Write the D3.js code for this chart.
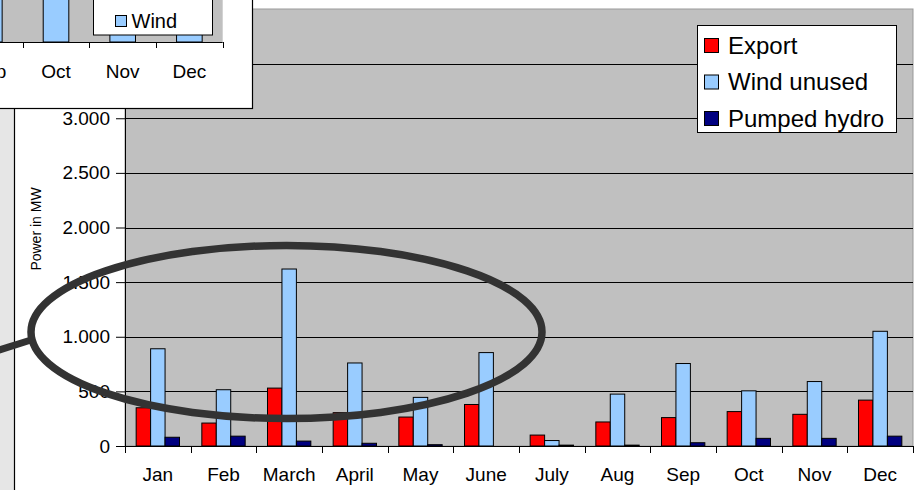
<!DOCTYPE html>
<html>
<head>
<meta charset="utf-8">
<script src="https://cdn.jsdelivr.net/npm/d3@7"></script>
<style>
  html, body { margin: 0; padding: 0; background: #fff; }
  svg { display: block; font-family: "Liberation Sans", Arial, sans-serif; }
</style>
</head>
<body>
<svg id="chart" width="920" height="490"></svg>
<script>
// Monthly surplus power, MW
const months = ["Jan", "Feb", "March", "April", "May", "June", "July", "Aug", "Sep", "Oct", "Nov", "Dec"];
const exportMW      = [350, 210, 530, 305, 265, 380, 100, 220, 260, 315, 290, 420];
const windUnusedMW  = [890, 515, 1620, 760, 445, 855, 50, 475, 755, 505, 590, 1050];
const pumpedHydroMW = [80, 90, 45, 25, 12, 0, 8, 8, 30, 70, 70, 90];
const seriesNames  = ["Export", "Wind unused", "Pumped hydro"];
const seriesColors = ["#FF0000", "#99CCFF", "#000080"];
const yGrid   = [500, 1000, 1500, 2000, 2500, 3000, 3500];
const yLabels = [0, 500, 1000, 1500, 2000, 2500, 3000];

// Small wind chart shown in the corner
const insetMonths = ["Sep", "Oct", "Nov", "Dec"];
const insetWind   = [5200, 4800, 5000, 5400];
const insetLegend = ["Wind"];

const svg = d3.select("#chart");
const W = 920, H = 490;
const plot = { left: 125, right: 913, top: 9, bottom: 446 };

const fmt = d3.formatLocale({ decimal: ",", thousands: ".", grouping: [3], currency: ["", ""] }).format(",");

svg.append("rect").attr("width", W).attr("height", H).attr("fill", "#fff");

// slide strip on the left
svg.append("rect").attr("x", 0).attr("y", 0).attr("width", 14).attr("height", H).attr("fill", "#E6E6E6");
svg.append("line").attr("x1", 14.5).attr("x2", 14.5).attr("y1", 0).attr("y2", H)
  .attr("stroke", "#000").attr("stroke-width", 1.2);

// scales
const x0 = d3.scaleBand().domain(months).range([plot.left, plot.right])
  .paddingInner(0.34).paddingOuter(0.17);
const x1 = d3.scaleBand().domain(seriesNames).range([0, x0.bandwidth()]).padding(0);
const y = d3.scaleLinear().domain([0, 4000]).range([plot.bottom, plot.top]);

// plot area
svg.append("rect")
  .attr("x", plot.left).attr("y", plot.top)
  .attr("width", plot.right - plot.left).attr("height", plot.bottom - plot.top)
  .attr("fill", "#C0C0C0").attr("stroke", "#999").attr("stroke-width", 1);

// gridlines
svg.append("g").selectAll("line")
  .data(yGrid)
  .join("line")
  .attr("x1", plot.left).attr("x2", plot.right)
  .attr("y1", d => Math.round(y(d)) + 0.5).attr("y2", d => Math.round(y(d)) + 0.5)
  .attr("stroke", "#000").attr("stroke-width", 1);

// bars
const seriesValues = [exportMW, windUnusedMW, pumpedHydroMW];
const rows = months.map((m, i) => ({
  month: m,
  values: seriesNames.map((s, k) => ({ series: s, color: seriesColors[k], value: seriesValues[k][i] }))
}));

svg.append("g").selectAll("g")
  .data(rows).join("g")
  .attr("transform", d => `translate(${x0(d.month)},0)`)
  .selectAll("rect")
  .data(d => d.values.filter(v => v.value > 0))
  .join("rect")
  .attr("x", d => x1(d.series))
  .attr("y", d => y(d.value))
  .attr("width", x1.bandwidth())
  .attr("height", d => y(0) - y(d.value))
  .attr("fill", d => d.color)
  .attr("stroke", "#000").attr("stroke-width", 1);

// y axis
const yAxis = d3.axisLeft(y).tickValues(yLabels).tickSize(9).tickPadding(6).tickFormat(d => fmt(d));
const gy = svg.append("g").attr("transform", `translate(${plot.left},0)`).call(yAxis);
gy.select(".domain").attr("stroke", "#000");
gy.selectAll(".tick line").attr("stroke", "#000");
gy.selectAll(".tick text").attr("font-size", 19).attr("fill", "#000")
  .attr("font-family", "Liberation Sans, Arial, sans-serif");

// x axis: ticks on category boundaries
svg.append("line").attr("x1", plot.left).attr("x2", plot.right)
  .attr("y1", plot.bottom + 0.5).attr("y2", plot.bottom + 0.5).attr("stroke", "#000");
const bounds = months.map(m => x0(m) - x0.step() * x0.paddingOuter()).concat([plot.right]);
svg.append("g").selectAll("line").data(bounds).join("line")
  .attr("x1", d => Math.round(d) + 0.5).attr("x2", d => Math.round(d) + 0.5)
  .attr("y1", plot.bottom).attr("y2", plot.bottom + 7).attr("stroke", "#000");
svg.append("g").selectAll("text").data(months).join("text")
  .attr("x", d => x0(d) + x0.bandwidth() / 2)
  .attr("y", 481)
  .attr("text-anchor", "middle")
  .attr("font-size", 19).attr("fill", "#000")
  .text(d => d);

// axis title
svg.append("text")
  .attr("transform", "translate(41,229) rotate(-90)")
  .attr("text-anchor", "middle")
  .attr("font-size", 14).attr("fill", "#000")
  .text("Power in MW");

// legend
const lg = svg.append("g").attr("transform", "translate(697,25)");
lg.append("rect").attr("x", 0.5).attr("y", 0.5).attr("width", 199).attr("height", 107)
  .attr("fill", "#fff").attr("stroke", "#000");
const li = lg.selectAll("g.item").data(seriesNames).join("g")
  .attr("class", "item")
  .attr("transform", (d, i) => `translate(0,${20 + i * 36.5})`);
li.append("rect").attr("x", 7.5).attr("y", -6.5).attr("width", 14).attr("height", 14)
  .attr("fill", (d, i) => seriesColors[i]).attr("stroke", "#000");
li.append("text").attr("x", 31).attr("y", 8.5)
  .attr("font-size", 24).attr("fill", "#000")
  .text(d => d);

// ---- small wind chart in the corner ----
const inset = svg.append("g");
inset.append("rect").attr("x", -2).attr("y", -10).attr("width", 254.5).attr("height", 118.5)
  .attr("fill", "#fff").attr("stroke", "#000").attr("stroke-width", 1.2);
const ix = d3.scaleBand().domain(insetMonths).range([-44, 222.7]).paddingInner(0.616).paddingOuter(0.308);
const iy = d3.scaleLinear().domain([0, 6000]).range([42, -300]);
inset.append("rect").attr("x", -2).attr("y", -10).attr("width", 224.7).attr("height", 52)
  .attr("fill", "#C0C0C0");
inset.append("g").selectAll("rect").data(insetMonths).join("rect")
  .attr("x", d => ix(d)).attr("y", (d, i) => iy(insetWind[i]))
  .attr("width", ix.bandwidth()).attr("height", (d, i) => iy(0) - iy(insetWind[i]))
  .attr("fill", "#99CCFF").attr("stroke", "#000").attr("stroke-width", 1);
inset.append("line").attr("x1", -2).attr("x2", 222.7).attr("y1", 42.5).attr("y2", 42.5).attr("stroke", "#000");
const iBounds = insetMonths.map(m => ix(m) - ix.step() * ix.paddingOuter()).concat([222.7]);
inset.append("g").selectAll("line").data(iBounds).join("line")
  .attr("x1", d => Math.round(d) + 0.5).attr("x2", d => Math.round(d) + 0.5)
  .attr("y1", 42).attr("y2", 48).attr("stroke", "#000");
inset.append("g").selectAll("text").data(insetMonths).join("text")
  .attr("x", d => ix(d) + ix.bandwidth() / 2).attr("y", 78)
  .attr("text-anchor", "middle").attr("font-size", 19).attr("fill", "#000")
  .text(d => d);
const ilg = inset.append("g").attr("transform", "translate(93,-10)");
ilg.append("rect").attr("x", 0.5).attr("y", 0.5).attr("width", 119).attr("height", 44.5)
  .attr("fill", "#fff").attr("stroke", "#000");
ilg.selectAll("g").data(insetLegend).join("g").each(function (d) {
  const g = d3.select(this);
  g.append("rect").attr("x", 22.5).attr("y", 25.5).attr("width", 11).attr("height", 11)
    .attr("fill", "#99CCFF").attr("stroke", "#000");
  g.append("text").attr("x", 38.5).attr("y", 37.5).attr("font-size", 20).attr("fill", "#000").text(d);
});

// ---- highlight ring around the spring months ----
svg.append("line").attr("x1", -20).attr("y1", 356).attr("x2", 31).attr("y2", 340)
  .attr("stroke", "#333").attr("stroke-width", 7);
svg.append("ellipse")
  .attr("cx", 286.5).attr("cy", 332).attr("rx", 255.5).attr("ry", 86.5)
  .attr("fill", "none").attr("stroke", "#333").attr("stroke-width", 7.5);
</script>
</body>
</html>
